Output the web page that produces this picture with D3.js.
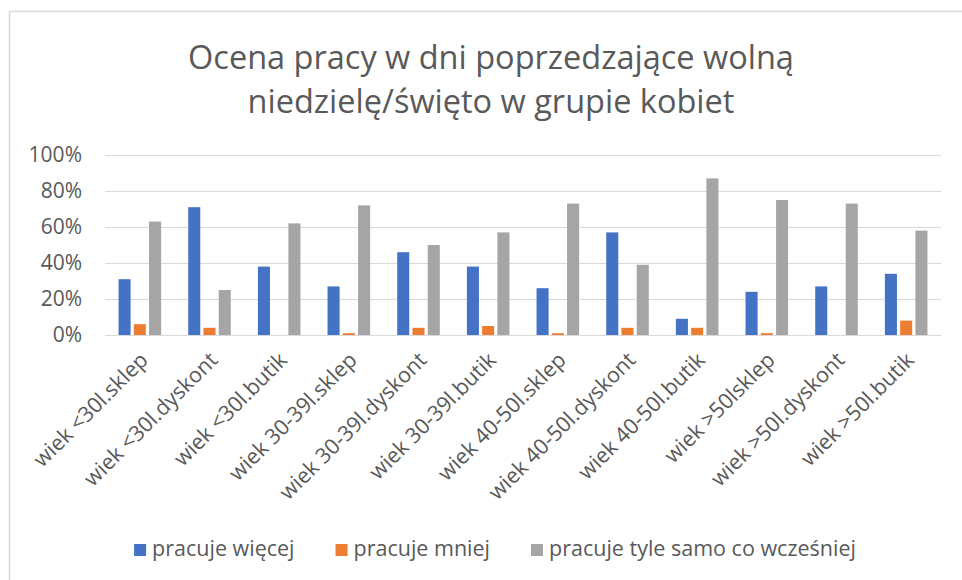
<!DOCTYPE html>
<html>
<head>
<meta charset="utf-8">
<script src="https://cdn.jsdelivr.net/npm/d3@7"></script>
<style>
	body { margin: 0; background: #fff; }
	svg text { font-family: "Open Sans", "Noto Sans", sans-serif; fill: #595959; }
</style>
</head>
<body>
<svg id="graph" width="962" height="580"></svg>
<script>
var categories = ["wiek <30l.sklep", "wiek <30l.dyskont", "wiek <30l.butik",
	"wiek 30-39l.sklep", "wiek 30-39l.dyskont", "wiek 30-39l.butik",
	"wiek 40-50l.sklep", "wiek 40-50l.dyskont", "wiek 40-50l.butik",
	"wiek >50lsklep", "wiek >50l.dyskont", "wiek >50l.butik"];
var seriesNames = ["pracuje więcej", "pracuje mniej", "pracuje tyle samo co wcześniej"];
var wiecej = [31, 71, 38, 27, 46, 38, 26, 57, 9, 24, 27, 34];
var mniej = [6, 4, 0, 1, 4, 5, 1, 4, 4, 1, 0, 8];
var tyleSamo = [63, 25, 62, 72, 50, 57, 73, 39, 87, 75, 73, 58];
var yTicks = [0, 20, 40, 60, 80, 100];
var titleLines = ["Ocena pracy w dni poprzedzające wolną", "niedzielę/święto w grupie kobiet"];
var colors = ["#4472C4", "#ED7D31", "#A5A5A5"];

document.addEventListener("DOMContentLoaded", function(event) {
	var graph = d3.select("#graph"),
		values = [wiecej, mniej, tyleSamo],
		left = 105, right = 941, top = 155, bottom = 335;

	// chart frame
	graph.append("rect")
		.attr("x", 9.5).attr("y", 11.5)
		.attr("width", 1000).attr("height", 700)
		.attr("fill", "#fff")
		.attr("stroke", "#d9d9d9")
		.attr("stroke-width", 1.5);

	graph.append("g")
		.attr("class", "title")
		.selectAll("text")
		.data(titleLines)
		.enter().append("text")
			.attr("x", 491)
			.attr("y", function(d, i) { return 69 + i * 44; })
			.attr("text-anchor", "middle")
			.style("font-size", "32.5px")
			.text(function(d) { return d; });

	var x0 = d3.scaleBand().domain(categories).range([left, right]),
		groupW = x0.bandwidth() * 0.611,
		x1 = d3.scaleBand().domain(d3.range(3)).range([-groupW / 2, groupW / 2]).paddingInner(0.21),
		y = d3.scaleLinear().domain([0, 100]).range([bottom, top]);

	// gridlines + y labels
	var yAxis = d3.axisLeft(y)
		.tickValues(yTicks)
		.tickSize(right - left)
		.tickPadding(23)
		.tickFormat(function(d) { return d + "%"; });

	var ya = graph.append("g")
		.attr("class", "axis yaxis")
		.attr("transform", "translate(" + right + ",0)")
		.call(yAxis);
	ya.select(".domain").remove();
	ya.selectAll("line").attr("stroke", "#d9d9d9").attr("stroke-width", 1.2);
	ya.selectAll("text").style("font-size", "21px");

	// bars
	var groups = graph.append("g")
		.attr("class", "bars")
		.selectAll("g")
		.data(categories)
		.enter().append("g")
			.attr("transform", function(d) { return "translate(" + (x0(d) + x0.bandwidth() / 2) + ",0)"; });

	groups.selectAll("rect")
		.data(function(d, ci) { return values.map(function(s, si) { return {s: si, v: s[ci]}; }); })
		.enter().append("rect")
			.attr("x", function(d) { return x1(d.s); })
			.attr("width", x1.bandwidth())
			.attr("y", function(d) { return y(d.v); })
			.attr("height", function(d) { return bottom - y(d.v); })
			.attr("fill", function(d) { return colors[d.s]; });

	// x labels
	var xAxis = d3.axisBottom(x0).tickSize(0).tickPadding(0);
	var xa = graph.append("g")
		.attr("class", "axis xaxis")
		.attr("transform", "translate(0," + bottom + ")")
		.call(xAxis);
	xa.select(".domain").remove();
	xa.selectAll(".tick text")
		.attr("text-anchor", "end")
		.attr("y", 0)
		.attr("dy", "0.75em")
		.attr("transform", "translate(-2,15) rotate(-45)")
		.style("font-size", "21.5px");

	// legend
	var legend = graph.append("g").attr("class", "legend");
	var items = legend.selectAll("g")
		.data(seriesNames)
		.enter().append("g");
	items.append("rect")
		.attr("y", 544).attr("width", 12).attr("height", 12)
		.attr("fill", function(d, i) { return colors[i]; });
	items.append("text")
		.attr("x", 18).attr("y", 556)
		.style("font-size", "21.5px")
		.text(function(d) { return d; });

	var pos = 0;
	items.each(function() {
		var it = d3.select(this);
		it.attr("transform", "translate(" + pos + ",0)");
		pos += 18 + it.select("text").node().getComputedTextLength() + 41;
	});
	pos -= 41;
	legend.attr("transform", "translate(" + (495 - pos / 2) + ",0)");
});
</script>
</body>
</html>
